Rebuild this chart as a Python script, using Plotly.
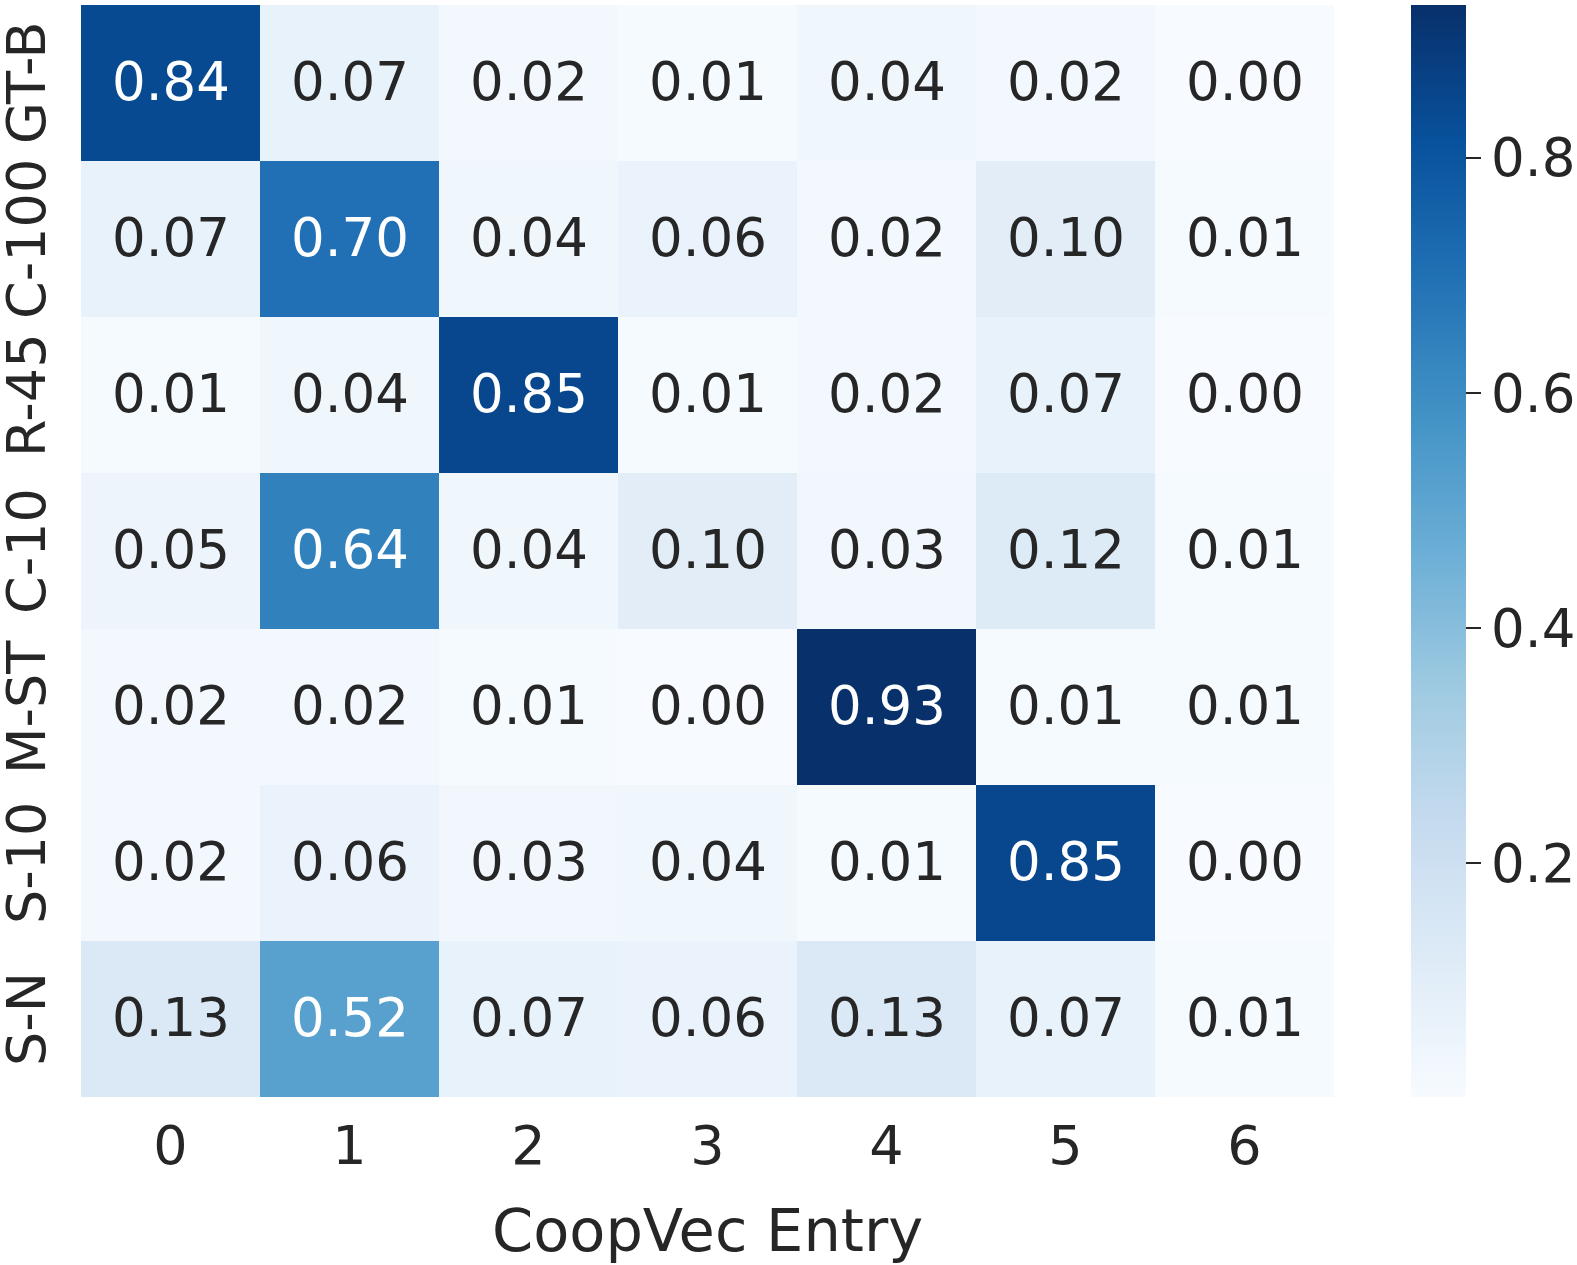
import plotly.graph_objects as go

x_labels = ["0", "1", "2", "3", "4", "5", "6"]
y_labels = ["GT-B", "C-100", "R-45", "C-10", "M-ST", "S-10", "S-N"]

row_gtb = [0.84, 0.07, 0.02, 0.01, 0.04, 0.02, 0.00]
row_c100 = [0.07, 0.70, 0.04, 0.06, 0.02, 0.10, 0.01]
row_r45 = [0.01, 0.04, 0.85, 0.01, 0.02, 0.07, 0.00]
row_c10 = [0.05, 0.64, 0.04, 0.10, 0.03, 0.12, 0.01]
row_mst = [0.02, 0.02, 0.01, 0.00, 0.93, 0.01, 0.01]
row_s10 = [0.02, 0.06, 0.03, 0.04, 0.01, 0.85, 0.00]
row_sn = [0.13, 0.52, 0.07, 0.06, 0.13, 0.07, 0.01]

z = [row_gtb, row_c100, row_r45, row_c10, row_mst, row_s10, row_sn]

blues = ["#f7fbff", "#deebf7", "#c6dbef", "#9ecae1", "#6baed6",
         "#4292c6", "#2171b5", "#08519c", "#08306b"]
colorscale = [[i / (len(blues) - 1), c] for i, c in enumerate(blues)]

FONT = "DejaVu Sans"
DARK = "#262626"

fig = go.Figure(go.Heatmap(
    z=z, x=x_labels, y=y_labels,
    colorscale=colorscale, zmin=0.0014, zmax=0.930,
    xgap=0, ygap=0,
    colorbar=dict(
        thickness=55, len=1.0, lenmode="fraction", y=1, yanchor="top",
        x=1.0615, xanchor="left", xpad=0, ypad=0,
        outlinewidth=0,
        tickvals=[0.2, 0.4, 0.6, 0.8], ticktext=["0.2", "0.4", "0.6", "0.8"],
        ticks="outside", ticklen=15, tickwidth=2, tickcolor=DARK,
        tickfont=dict(family=FONT, size=53, color=DARK),
    ),
    hoverinfo="skip",
))

annotations = []
for yi, row in enumerate(z):
    for xi, v in enumerate(row):
        annotations.append(dict(
            x=x_labels[xi], y=y_labels[yi], text=f"{v:.2f}",
            showarrow=False, xref="x", yref="y", yshift=2,
            font=dict(family=FONT, size=53, color="white" if v > 0.45 else DARK),
        ))

# y-axis category labels, rotated like the reference
for lab in y_labels:
    annotations.append(dict(
        x=0, y=lab, xref="paper", yref="y", text=lab, textangle=-90,
        xanchor="center", yanchor="middle", xshift=-55, showarrow=False,
        font=dict(family=FONT, size=54, color=DARK),
    ))

annotations.append(dict(
    text="CoopVec Entry", x=0.5, y=0, xref="paper", yref="paper",
    xanchor="center", yanchor="middle", yshift=-133, showarrow=False,
    font=dict(family=FONT, size=59, color=DARK),
))

fig.update_layout(
    width=1577, height=1265,
    margin=dict(l=81, r=243, t=5, b=168, autoexpand=False),
    paper_bgcolor="white", plot_bgcolor="white",
    font=dict(family=FONT, color=DARK),
    annotations=annotations,
    xaxis=dict(
        automargin=False,
        tickfont=dict(family=FONT, size=54, color=DARK),
        ticks="", ticklabelstandoff=12,
        showgrid=False, zeroline=False, showline=False,
    ),
    yaxis=dict(
        automargin=False,
        autorange="reversed",
        showticklabels=False, ticks="",
        showgrid=False, zeroline=False, showline=False,
    ),
)

fig.write_html("out.html", config={"displayModeBar": False},
               post_script="document.body.style.margin='0';")
